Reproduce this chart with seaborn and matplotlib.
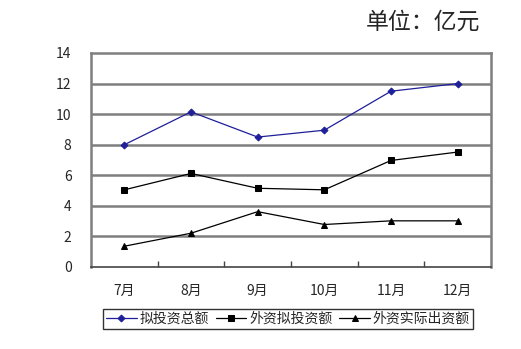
import matplotlib
matplotlib.use("Agg")
import matplotlib.pyplot as plt
from matplotlib.ticker import FixedLocator
import seaborn as sns
import pandas as pd

months = ["7月", "8月", "9月", "10月", "11月", "12月"]
total_planned = [8.0, 10.15, 8.5, 8.95, 11.5, 12.0]
foreign_planned = [5.05, 6.12, 5.15, 5.05, 6.97, 7.52]
foreign_actual = [1.36, 2.21, 3.62, 2.78, 3.02, 3.02]
series_names = ["拟投资总额", "外资拟投资额", "外资实际出资额"]

sns.set_theme(style="white")
plt.rcParams["font.family"] = ["Noto Sans CJK SC", "DejaVu Sans"]

df = pd.DataFrame({
    "月份": months * 3,
    "金额": total_planned + foreign_planned + foreign_actual,
    "系列": [series_names[0]] * 6 + [series_names[1]] * 6 + [series_names[2]] * 6,
})
df["x"] = list(range(6)) * 3

fig = plt.figure(figsize=(5.21, 3.49), dpi=100)
ax = fig.add_axes([91 / 521, 82 / 349, 400 / 521, 214 / 349])

palette = {series_names[0]: "#1f1f9a", series_names[1]: "black", series_names[2]: "black"}
markers = {series_names[0]: "D", series_names[1]: "s", series_names[2]: "^"}
sizes = {series_names[0]: 3.5, series_names[1]: 4.5, series_names[2]: 5}

for name in series_names:
    sub = df[df["系列"] == name]
    sns.lineplot(data=sub, x="x", y="金额", ax=ax, color=palette[name],
                 marker=markers[name], markersize=sizes[name],
                 markeredgecolor=palette[name], linewidth=0.9, label=name)

ax.set_xlim(-0.5, 5.5)
ax.set_ylim(0, 14)
ax.set_yticks(range(0, 15, 2))
ax.set_xticks(range(6))
ax.set_xticklabels(months)
ax.xaxis.set_minor_locator(FixedLocator([0.5, 1.5, 2.5, 3.5, 4.5]))
ax.tick_params(axis="x", which="minor", direction="in", length=4, width=1, color="#444444", bottom=True)
ax.tick_params(axis="x", which="major", length=0, pad=12, labelsize=10)
ax.tick_params(axis="y", length=0, pad=14, labelsize=10)
ax.set_xlabel("")
ax.set_ylabel("")

for y in range(2, 14, 2):
    ax.axhline(y, color="#7f7f7f", linewidth=1.8, zorder=0)
for s in ax.spines.values():
    s.set_color("#7f7f7f")
    s.set_linewidth(1.8)
ax.spines["bottom"].set_color("#444444")
ax.spines["bottom"].set_linewidth(1.2)

leg = ax.legend(loc="center", bbox_to_anchor=(288 / 521, 1 - 319 / 349),
                bbox_transform=fig.transFigure, ncol=3, frameon=True,
                fancybox=False, edgecolor="black", fontsize=10,
                handlelength=2.2, handletextpad=0.2, columnspacing=0.5,
                borderpad=0.25, borderaxespad=0)
leg.get_frame().set_linewidth(1.0)

fig.text(480 / 521, 1 - 22 / 349, "单位：亿元", ha="right", va="center", fontsize=16.5)

fig.savefig("out.png", dpi=100, facecolor="white")
